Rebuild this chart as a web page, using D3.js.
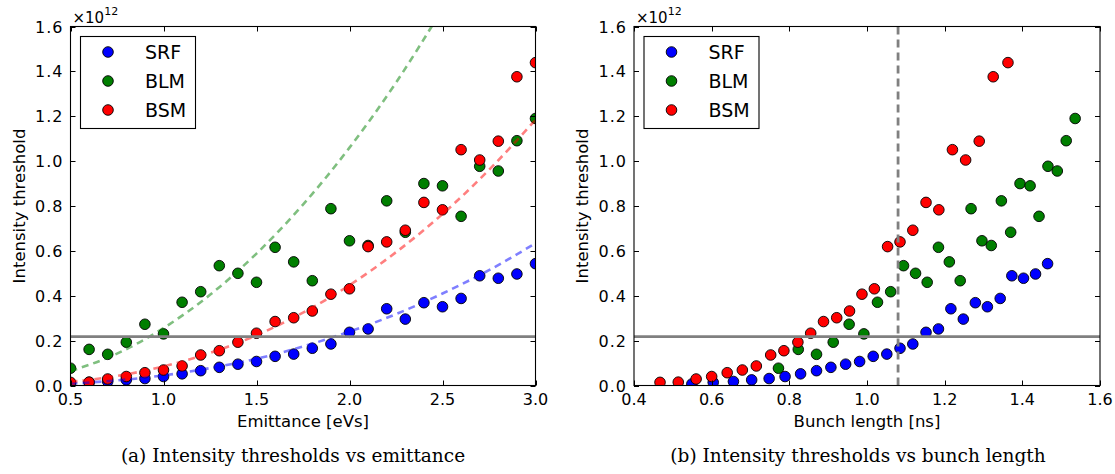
<!DOCTYPE html>
<html>
<head>
<meta charset="utf-8">
<script src="https://cdn.jsdelivr.net/npm/d3@7"></script>
<style>
  html, body { margin: 0; padding: 0; background: #fff; }
  svg { display: block; }
  .tick-label { font-family: "DejaVu Sans", sans-serif; fill: #000; }
  .axis-title { font-family: "DejaVu Sans", sans-serif; fill: #000; }
  .caption { font-family: "DejaVu Serif", serif; fill: #000; }
</style>
</head>
<body>
<svg id="chart" width="1115" height="474"></svg>
<script>
// Longitudinal emittance of each measurement [eVs]
const emittance = [0.5, 0.6, 0.7, 0.8, 0.9, 1.0, 1.1, 1.2, 1.3, 1.4, 1.5, 1.6, 1.7,
                   1.8, 1.9, 2.0, 2.1, 2.2, 2.3, 2.4, 2.5, 2.6, 2.7, 2.8, 2.9, 3.0];

// Intensity thresholds [x1e12] per bunch-length measurement method
const srfThreshold = [0.007, 0.014, 0.018, 0.025, 0.031, 0.040, 0.052, 0.066, 0.081, 0.095, 0.107, 0.130, 0.140,
                      0.166, 0.185, 0.237, 0.252, 0.342, 0.296, 0.369, 0.351, 0.388, 0.489, 0.478, 0.497, 0.543];
const blmThreshold = [0.077, 0.161, 0.139, 0.193, 0.273, 0.230, 0.371, 0.418, 0.534, 0.500, 0.460, 0.616, 0.551,
                      0.467, 0.788, 0.645, 0.624, 0.823, 0.683, 0.900, 0.890, 0.754, 0.977, 0.956, 1.091, 1.190];
const bsmThreshold = [0.014, 0.015, 0.029, 0.040, 0.057, 0.069, 0.087, 0.136, 0.155, 0.193, 0.233, 0.285, 0.302,
                      0.332, 0.407, 0.431, 0.619, 0.640, 0.692, 0.816, 0.783, 1.051, 1.005, 1.089, 1.376, 1.439];

// Bunch length [ns] of each measurement, per method
const srfBunchLength = [0.549, 0.604, 0.656, 0.703, 0.748, 0.789, 0.829, 0.870, 0.907, 0.945, 0.981, 1.016, 1.051,
                        1.085, 1.118, 1.152, 1.184, 1.216, 1.248, 1.279, 1.310, 1.343, 1.373, 1.403, 1.434, 1.465];
const blmBunchLength = [0.772, 0.823, 0.870, 0.913, 0.954, 0.992, 1.027, 1.061, 1.094, 1.125, 1.155, 1.184, 1.212,
                        1.240, 1.268, 1.296, 1.320, 1.346, 1.370, 1.394, 1.420, 1.443, 1.466, 1.490, 1.513, 1.536];
const bsmBunchLength = [0.467, 0.514, 0.560, 0.600, 0.640, 0.679, 0.715, 0.752, 0.786, 0.822, 0.855, 0.888, 0.922,
                        0.955, 0.987, 1.019, 1.053, 1.085, 1.118, 1.152, 1.185, 1.220, 1.254, 1.289, 1.325, 1.363];

// Fitted threshold curves vs emittance
const fitEmittance = [0.5, 0.75, 1.0, 1.25, 1.5, 1.75, 2.0, 2.25, 2.5, 2.75, 3.0];
const srfFit = [0.0086, 0.0227, 0.045, 0.0775, 0.119, 0.174, 0.240, 0.318, 0.410, 0.514, 0.634];
const blmFit = [0.064, 0.142, 0.256, 0.404, 0.588, 0.806, 1.060, 1.350, 1.680, 2.040, 2.440];
const bsmFit = [0.016, 0.0425, 0.085, 0.145, 0.224, 0.325, 0.447, 0.594, 0.764, 0.961, 1.184];

// Reference levels
const thresholdLevel = 0.218;      // horizontal line [x1e12]
const nominalBunchLength = 1.08;   // vertical line [ns]

// Axis ticks
const yTicks = [0.0, 0.2, 0.4, 0.6, 0.8, 1.0, 1.2, 1.4, 1.6];
const emittanceTicks = [0.5, 1.0, 1.5, 2.0, 2.5, 3.0];
const bunchLengthTicks = [0.4, 0.6, 0.8, 1.0, 1.2, 1.4, 1.6];

const seriesNames = ["SRF", "BLM", "BSM"];
const seriesColors = { SRF: "#0000ff", BLM: "#007f00", BSM: "#ff0000" };

const svg = d3.select("#chart");
svg.append("rect").attr("width", 1115).attr("height", 474).attr("fill", "#fff");

const plotTop = 26.5, plotBottom = 385.5;
const y = d3.scaleLinear().domain([0, 1.6]).range([plotBottom, plotTop]);

function drawPanel(cfg) {
  const x = d3.scaleLinear().domain(cfg.xDomain).range([cfg.left, cfg.right]);
  const g = svg.append("g");
  const clipId = "clip-" + cfg.id;
  svg.append("defs").append("clipPath").attr("id", clipId)
    .append("rect")
    .attr("x", cfg.left).attr("y", plotTop)
    .attr("width", cfg.right - cfg.left).attr("height", plotBottom - plotTop);

  const plot = g.append("g").attr("clip-path", `url(#${clipId})`);

  // measurement points
  cfg.series.forEach(s => {
    plot.append("g").selectAll("circle")
      .data(s.x.map((v, i) => [v, s.y[i]]))
      .join("circle")
      .attr("cx", d => x(d[0]))
      .attr("cy", d => y(d[1]))
      .attr("r", 5.3)
      .attr("fill", seriesColors[s.name])
      .attr("stroke", "#000")
      .attr("stroke-width", 0.9);
  });

  // fitted curves
  (cfg.fits || []).forEach(f => {
    const line = d3.line()
      .x((d, i) => x(f.x[i]))
      .y(d => y(d))
      .curve(d3.curveMonotoneX);
    plot.append("path")
      .attr("d", line(f.y))
      .attr("fill", "none")
      .attr("stroke", seriesColors[f.name])
      .attr("stroke-opacity", 0.5)
      .attr("stroke-width", 2.6)
      .attr("stroke-dasharray", "7,5");
  });

  // reference lines
  plot.append("line")
    .attr("x1", cfg.left).attr("x2", cfg.right)
    .attr("y1", y(thresholdLevel)).attr("y2", y(thresholdLevel))
    .attr("stroke", "#808080").attr("stroke-width", 2.8);
  if (cfg.vline !== undefined) {
    plot.append("line")
      .attr("x1", x(cfg.vline)).attr("x2", x(cfg.vline))
      .attr("y1", plotTop).attr("y2", plotBottom)
      .attr("stroke", "#808080").attr("stroke-width", 2.8)
      .attr("stroke-dasharray", "8,5");
  }

  // frame
  g.append("rect")
    .attr("x", cfg.left).attr("y", plotTop)
    .attr("width", cfg.right - cfg.left).attr("height", plotBottom - plotTop)
    .attr("fill", "none").attr("stroke", "#000").attr("stroke-width", 1.1);

  // inward ticks on all four sides
  const tickLen = 5;
  cfg.xTicks.forEach(t => {
    const px = Math.round(x(t)) + 0.5;
    g.append("line").attr("x1", px).attr("x2", px)
      .attr("y1", plotBottom).attr("y2", plotBottom - tickLen).attr("stroke", "#000");
    g.append("line").attr("x1", px).attr("x2", px)
      .attr("y1", plotTop).attr("y2", plotTop + tickLen).attr("stroke", "#000");
    g.append("text").attr("class", "tick-label")
      .attr("x", x(t)).attr("y", 405)
      .attr("text-anchor", "middle")
      .attr("font-size", 16)
      .text(d3.format(".1f")(t));
  });
  yTicks.forEach(t => {
    const py = Math.round(y(t)) + 0.5;
    g.append("line").attr("x1", cfg.left).attr("x2", cfg.left + tickLen)
      .attr("y1", py).attr("y2", py).attr("stroke", "#000");
    g.append("line").attr("x1", cfg.right).attr("x2", cfg.right - tickLen)
      .attr("y1", py).attr("y2", py).attr("stroke", "#000");
    g.append("text").attr("class", "tick-label")
      .attr("x", cfg.left - 7).attr("y", y(t) + 6)
      .attr("text-anchor", "end")
      .attr("font-size", 16)
      .attr("letter-spacing", 1)
      .text(d3.format(".1f")(t));
  });

  // scale factor
  const sf = g.append("text").attr("class", "tick-label")
    .attr("x", cfg.left + 2).attr("y", 22.5).attr("font-size", 15);
  sf.append("tspan").text("×10");
  sf.append("tspan").attr("font-size", 11).attr("dy", -7.5).text("12");

  // axis titles
  g.append("text").attr("class", "axis-title")
    .attr("x", (cfg.left + cfg.right) / 2).attr("y", 427)
    .attr("text-anchor", "middle").attr("font-size", 16.5)
    .text(cfg.xTitle);
  g.append("text").attr("class", "axis-title")
    .attr("transform", `translate(${cfg.left - 46},${(plotTop + plotBottom) / 2}) rotate(-90)`)
    .attr("text-anchor", "middle").attr("font-size", 16.5)
    .text("Intensity threshold");

  // legend
  const lx = cfg.left + 10, ly = 36.5;
  const lg = g.append("g");
  lg.append("rect").attr("x", lx).attr("y", ly).attr("width", 115).attr("height", 92)
    .attr("fill", "#fff").attr("stroke", "#000").attr("stroke-width", 1.1);
  seriesNames.forEach((name, i) => {
    const ry = ly + 15.5 + i * 29;
    lg.append("circle").attr("cx", lx + 27.5).attr("cy", ry).attr("r", 5.3)
      .attr("fill", seriesColors[name]).attr("stroke", "#000").attr("stroke-width", 0.9);
    lg.append("text").attr("class", "axis-title")
      .attr("x", lx + 64.5).attr("y", ry + 7)
      .attr("font-size", 19)
      .text(name);
  });

  // caption
  svg.append("text").attr("class", "caption")
    .attr("x", cfg.captionX).attr("y", 462)
    .attr("text-anchor", "middle").attr("font-size", 18.5)
    .text(cfg.caption);
}

drawPanel({
  id: "emittance",
  left: 70.5, right: 535.5,
  xDomain: [0.5, 3.0],
  xTicks: emittanceTicks,
  xTitle: "Emittance [eVs]",
  series: [
    { name: "SRF", x: emittance, y: srfThreshold },
    { name: "BLM", x: emittance, y: blmThreshold },
    { name: "BSM", x: emittance, y: bsmThreshold }
  ],
  fits: [
    { name: "SRF", x: fitEmittance, y: srfFit },
    { name: "BLM", x: fitEmittance, y: blmFit },
    { name: "BSM", x: fitEmittance, y: bsmFit }
  ],
  caption: "(a) Intensity thresholds vs emittance",
  captionX: 293
});

drawPanel({
  id: "bunchlength",
  left: 634, right: 1100,
  xDomain: [0.4, 1.6],
  xTicks: bunchLengthTicks,
  xTitle: "Bunch length [ns]",
  series: [
    { name: "SRF", x: srfBunchLength, y: srfThreshold },
    { name: "BLM", x: blmBunchLength, y: blmThreshold },
    { name: "BSM", x: bsmBunchLength, y: bsmThreshold }
  ],
  vline: nominalBunchLength,
  caption: "(b) Intensity thresholds vs bunch length",
  captionX: 858
});
</script>
</body>
</html>
